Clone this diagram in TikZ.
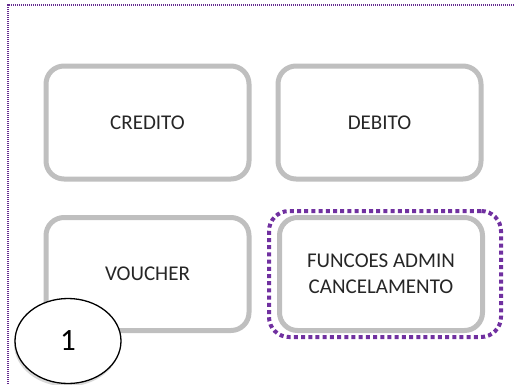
\documentclass[tikz,border=0pt]{standalone}
\usepackage{fontspec}
\setmainfont{Carlito}
\usetikzlibrary{shapes.geometric,shadows}
\definecolor{selpurple}{HTML}{7030A0}
\colorlet{teclagray}{black!25}
\colorlet{margempurple}{selpurple!90!black}

\begin{document}
\begin{tikzpicture}[x=1pt,y=-1pt,
        tecla/.style={draw=teclagray, line width=5pt, rounded corners=18pt,
            minimum width=203pt, minimum height=113pt, align=center,
            text=black!85, font=\fontsize{21}{25.7}\selectfont},
        selecao/.style={draw=selpurple, line width=4pt, dash pattern=on 4pt off 3.2pt,
            rounded corners=20pt, minimum width=232pt, minimum height=126pt},
        numero/.style={ellipse, draw, fill=white, line width=1.3pt, minimum width=106pt,
            minimum height=85pt, inner sep=0pt, font=\fontsize{31}{31}\selectfont,
            drop shadow={shadow xshift=-1pt, shadow yshift=-3pt, opacity=0.3}}]
        \useasboundingbox (0,0) rectangle (515,384);
        \draw[margempurple, line width=1.2pt, dash pattern=on 1.2pt off 0.8pt](8,384)--(8,5)--(515,5);
        \foreach \nome/\x/\y/\texto in {credito/147.5/122.5/CREDITO,
            debito/379.5/122.5/DEBITO,
            voucher/147.5/274/VOUCHER,
            funcoes/381/274/{FUNCOES ADMIN\\CANCELAMENTO}}{
            \node[tecla] (\nome) at (\x,\y) {\texto};
        }
        \node[selecao] (sel) at (385,274) {};
        \node[numero] (um) at (68,341) {1};
    \end{tikzpicture}
\end{document}
